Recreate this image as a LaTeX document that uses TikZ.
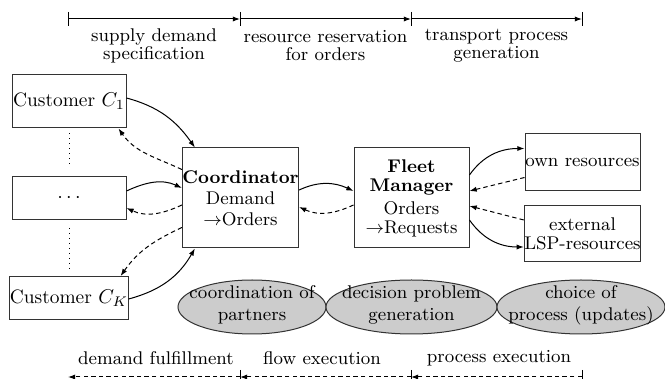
\documentclass[tikz,border=0pt]{standalone}
\usetikzlibrary{arrows.meta,calc,shapes.geometric}
\begin{document}
\begin{tikzpicture}[x=0.5pt,y=-0.5pt,line width=0.5pt,
  tip/.style={-{Latex[length=3.6pt,width=2.6pt]}},
  dsh/.style={dash pattern=on 2.2pt off 1.6pt},
  box/.style={draw=black!80,rectangle,inner sep=0pt,align=center,font=\fontsize{9.2}{9.5}\selectfont},
  custbox/.style={box,minimum width=57pt,font=\fontsize{9.7}{10}\selectfont},
  bigbox/.style={box,minimum width=57.5pt,minimum height=50pt},
  resbox/.style={box,minimum width=57.5pt},
  ell/.style={draw=black!80,fill=black!20,ellipse,inner sep=0pt,minimum height=27pt},
  elltext/.style={align=center,inner sep=0pt,font=\fontsize{9.2}{11}\selectfont},
  lab/.style={align=center,inner sep=0pt,font=\fontsize{9.2}{9}\selectfont},
  tick/.style={line width=0.5pt}]
\useasboundingbox (0,0) rectangle (665,379);

% boxes
\node[custbox,minimum height=26.5pt] (c1) at (69,101.5) {Customer $C_1$};
\node[custbox,minimum height=21.5pt] (dots) at (69,198) {$\cdots$};
\node[custbox,minimum height=21.5pt] (ck) at (69,298) {Customer $C_K$};
\node[bigbox] (coord) at (240.5,198) {\textbf{Coordinator}\\[1pt]Demand\\[1pt]$\rightarrow$Orders};
\node[bigbox] (fleet) at (411.5,198) {\textbf{Fleet}\\\textbf{Manager}\\[2pt]Orders\\$\rightarrow$Requests};
\node[resbox,minimum height=28.5pt] (own) at (582.5,162.5) {own resources};
\node[resbox,minimum height=28pt] (ext) at (582.5,234) {external\\LSP-resources};

% ellipses
\node[ell,minimum width=74pt] (e1) at (252,307) {};
\node[ell,minimum width=85.5pt] (e2) at (411.5,307) {};
\node[ell,minimum width=84pt] (e3) at (581,307) {};
\node[elltext] (e1t) at ($(e1.center)+(0,-2)$) {coordination of\\partners};
\node[elltext] (e2t) at ($(e2.center)+(0,-2)$) {decision problem\\generation};
\node[elltext] (e3t) at ($(e3.center)+(0,-2)$) {choice of\\process (updates)};

% dotted
\draw[dotted,shorten <=2.5pt,shorten >=5pt] (c1) -- (dots);
\draw[dotted,shorten <=4pt,shorten >=3.5pt] (dots) -- (ck);

% connectors customers <-> coordinator
\draw[tip] ($(c1.east)+(0,-3.5)$) to[out=-15,in=125] ($(coord.north west)+(13,0)$);
\draw[tip,dsh] ($(coord.north west)+(0,22)$) to[out=155,in=-55] ($(c1.south east)+(-8,0)$);
\draw[tip] ($(dots.east)+(0,-7)$) to[out=25,in=155] ($(coord.west)+(0,-10)$);
\draw[tip,dsh] ($(coord.west)+(0,7)$) to[out=-155,in=-25] ($(dots.east)+(0,10)$);
\draw[tip,dsh] ($(coord.south west)+(0,-21)$) to[out=-155,in=55] ($(ck.north east)+(-8,0)$);
\draw[tip] ($(ck.east)+(0,1)$) to[out=15,in=-120] ($(coord.south west)+(13,0)$);

% coordinator <-> fleet
\draw[tip] ($(coord.east)+(0,-8)$) to[out=25,in=155] ($(fleet.west)+(0,-7)$);
\draw[tip,dsh] ($(fleet.west)+(0,7)$) to[out=-155,in=-25] ($(coord.east)+(0,9)$);

% fleet <-> resources
\draw[tip] ($(fleet.east)+(0,-23)$) to[out=55,in=180] ($(own.west)+(0,-14)$);
\draw[tip,dsh] ($(own.west)+(0,15)$) -- ($(fleet.east)+(0,-7)$);
\draw[tip,dsh] ($(ext.west)+(0,-14)$) -- ($(fleet.east)+(0,8)$);
\draw[tip] ($(fleet.east)+(0,22)$) to[out=-55,in=180] ($(ext.west)+(0,13)$);

% top timeline
\coordinate (t0) at (68,19);
\coordinate (t1) at (240,19);
\coordinate (t2) at (411,19);
\coordinate (t3) at (582,19);
\draw[tip] (t0) -- (t1);
\draw[tip] (t1) -- (t2);
\draw[tip] (t2) -- (t3);
\foreach \p in {t0,t1,t2,t3} \draw[tick] ($(\p)+(0,-7)$) -- ($(\p)+(0,7)$);
\node[lab] (l1) at (154,46) {supply demand\\specification};
\node[lab] (l2) at (325.5,46) {resource reservation\\for orders};
\node[lab] (l3) at (496.5,46) {transport process\\generation};

% bottom timeline
\coordinate (b0) at (68,377);
\coordinate (b1) at (240,377);
\coordinate (b2) at (411,377);
\coordinate (b3) at (582,377);
\draw[tip,dsh] (b1) -- (b0);
\draw[tip,dsh] (b2) -- (b1);
\draw[tip,dsh] (b3) -- (b2);
\foreach \p in {b1,b2,b3} \draw[tick] ($(\p)+(0,-7)$) -- ($(\p)+(0,7)$);
\node[lab] (m1) at (156,358) {demand fulfillment};
\node[lab] (m2) at (322,358) {flow execution};
\node[lab] (m3) at (499,358) {process execution};
\end{tikzpicture}
\end{document}
